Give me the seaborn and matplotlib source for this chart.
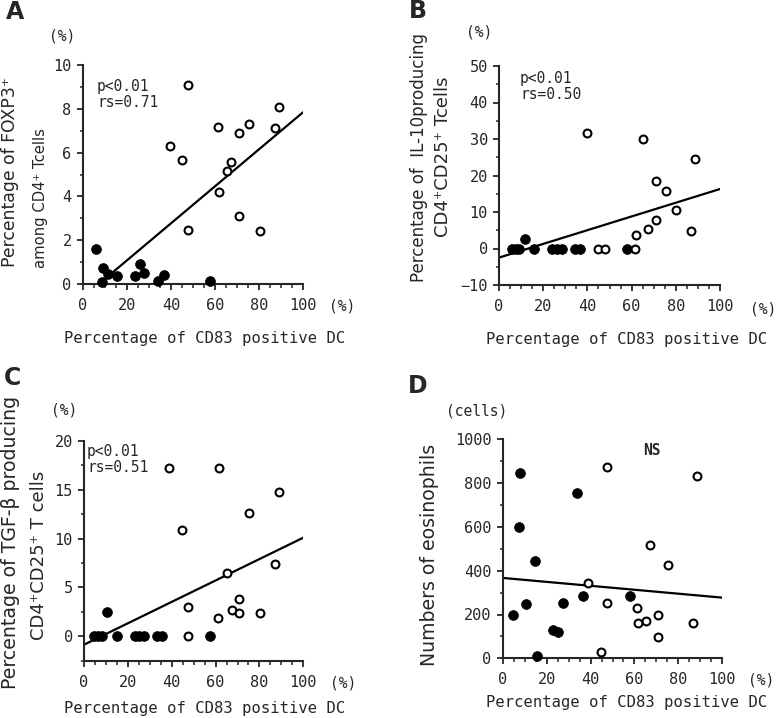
import numpy as np
import matplotlib
matplotlib.use("Agg")
import matplotlib.pyplot as plt
import seaborn as sns
from matplotlib.ticker import MultipleLocator

# Panel A: FOXP3+ among CD4+ T cells (%)
a_filled_x = [5.9, 9.1, 8.6, 11.6, 15.7, 23.7, 26.0, 27.8, 34.3, 37.0, 57.7]
a_filled_y = [1.58, 0.75, 0.1, 0.44, 0.38, 0.38, 0.9, 0.52, 0.14, 0.41, 0.14]
a_open_x = [39.6, 44.9, 47.9, 47.9, 61.5, 61.9, 65.3, 67.5, 70.8, 70.8, 75.5, 80.7, 87.2, 89.1]
a_open_y = [6.28, 5.67, 9.09, 2.48, 7.19, 4.18, 5.18, 5.59, 6.88, 3.09, 7.31, 2.42, 7.11, 8.07]

# Panel B: IL-10 producing CD4+CD25+ T cells (%)
b_filled_x = [5.7, 7.5, 9.2, 11.8, 15.8, 24.1, 26.1, 28.4, 34.4, 36.7, 58.1]
b_filled_y = [0, 0, 0, 2.7, 0, 0, 0, 0, 0, 0, 0]
b_open_x = [39.7, 45.0, 48.0, 61.6, 61.8, 65.3, 67.2, 71.0, 70.9, 75.4, 80.1, 86.9, 88.7]
b_open_y = [31.7, 0, 0, 0, 3.6, 30.0, 5.4, 7.8, 18.5, 15.7, 10.5, 4.7, 24.4]

# Panel C: TGF-beta producing CD4+CD25+ T cells (%)
c_filled_x = [4.6, 6.5, 8.3, 10.6, 14.9, 23.3, 25.2, 27.4, 33.1, 35.7, 57.5]
c_filled_y = [0, 0, 0, 2.47, 0, 0, 0, 0, 0, 0, 0]
c_open_x = [38.9, 44.5, 47.6, 47.6, 61.2, 61.6, 65.3, 67.3, 70.7, 70.7, 75.2, 80.2, 87.1, 89.1]
c_open_y = [17.2, 10.86, 3.05, 0, 1.88, 17.2, 6.5, 2.7, 3.8, 2.43, 12.6, 2.36, 7.43, 14.8]

# Panel D: numbers of eosinophils (cells)
d_filled_x = [4.7, 7.5, 8.1, 10.6, 14.7, 15.5, 23.0, 25.3, 27.3, 34.0, 36.4, 58.0]
d_filled_y = [198, 598, 845, 247, 446, 11, 129, 119, 254, 753, 286, 286]
d_open_x = [38.7, 44.6, 47.4, 47.4, 61.0, 61.5, 65.1, 67.1, 70.6, 70.9, 75.1, 86.5, 88.6]
d_open_y = [345, 27, 875, 254, 228, 160, 169, 517, 199, 99, 426, 160, 834]

# regression lines, value at x=0 and x=100
fit_x = [0, 100]
fit_a = [-0.62, 7.84]
fit_b = [-2.5, 16.3]
fit_c = [-0.86, 10.1]
fit_d = [367, 277]

W, H = 778, 718
sns.set_style("ticks")
plt.rcParams['font.family'] = ['DejaVu Sans Mono', 'DejaVu Sans']
plt.rcParams['axes.linewidth'] = 1.5

fig = plt.figure(figsize=(W / 100, H / 100), dpi=100)


def px(x, y):
    return x / W, 1 - y / H


def add_axes(left, top, right, bottom):
    return fig.add_axes([left / W, 1 - bottom / H, (right - left) / W, (bottom - top) / H])


def panel(ax, fx, fy, ox, oy, fit, ylim, major, minor):
    sns.lineplot(x=fit_x, y=fit, ax=ax, color='black', lw=1.6)
    sns.scatterplot(x=fx, y=fy, ax=ax, color='black', s=50, edgecolor='black',
                    linewidth=0.5, clip_on=False, zorder=3)
    sns.scatterplot(x=ox, y=oy, ax=ax, color='white', s=32, edgecolor='black',
                    linewidth=1.5, clip_on=False, zorder=3)
    ax.set_xlim(0, 100)
    ax.set_ylim(*ylim)
    ax.xaxis.set_major_locator(MultipleLocator(20))
    ax.xaxis.set_minor_locator(MultipleLocator(5))
    ax.yaxis.set_major_locator(MultipleLocator(major))
    ax.yaxis.set_minor_locator(MultipleLocator(minor))
    ax.tick_params(axis='x', which='major', length=4, width=1.3, pad=6, labelsize=11)
    ax.tick_params(axis='x', which='minor', length=3, width=1.1)
    ax.tick_params(axis='y', which='major', length=4, width=1.3, pad=4, labelsize=11)
    ax.tick_params(axis='y', which='minor', length=2.5, width=1.1)
    sns.despine(ax=ax)
    ax.set_xlabel('')
    ax.set_ylabel('')


axA = add_axes(82.7, 65, 303, 284)
panel(axA, a_filled_x, a_filled_y, a_open_x, a_open_y, fit_a, (0, 10), 2, 1)
axB = add_axes(499, 66, 720, 285)
panel(axB, b_filled_x, b_filled_y, b_open_x, b_open_y, fit_b, (-10, 50), 10, 5)
axC = add_axes(84, 441, 303.3, 660.7)
panel(axC, c_filled_x, c_filled_y, c_open_x, c_open_y, fit_c, (-2.5, 20), 5, 2.5)
axD = add_axes(502.7, 439.3, 722.3, 658.3)
panel(axD, d_filled_x, d_filled_y, d_open_x, d_open_y, fit_d, (0, 1000), 200, 100)

# panel letters
for letter, (x, y) in zip('ABCD', [(15, 12), (418, 11), (13, 378), (418, 386)]):
    fig.text(*px(x, y), letter, family='DejaVu Sans', weight='bold', fontsize=17,
             ha='center', va='center')

# units
unit_kw = dict(fontsize=10.5, ha='center', va='center')
fig.text(*px(62, 36), '(%)', **unit_kw)
fig.text(*px(479, 32), '(%)', **unit_kw)
fig.text(*px(64, 410), '(%)', **unit_kw)
fig.text(*px(477, 411), '(cells)', **unit_kw)
fig.text(*px(342, 306), '(%)', **unit_kw)
fig.text(*px(776, 309), '(%)', fontsize=10.5, ha='right', va='center')
fig.text(*px(343, 683), '(%)', **unit_kw)
fig.text(*px(774, 680), '(%)', fontsize=10.5, ha='right', va='center')

# x labels
xl = 'Percentage of CD83 positive DC'
for x, y in [(205, 338), (627, 340), (205, 708), (627, 703)]:
    fig.text(*px(x, y), xl, fontsize=11.2, ha='center', va='center')

# y labels
yl_kw = dict(family='DejaVu Sans', rotation=90, ha='center', va='center')
fig.text(*px(10.5, 172), 'Percentage of FOXP3\u207a', fontsize=12.4, **yl_kw)
fig.text(*px(40.5, 198.5), 'among CD4\u207a Tcells', fontsize=10.6, **yl_kw)
fig.text(*px(419, 158), 'Percentage of  IL-10producing', fontsize=12.0, **yl_kw)
fig.text(*px(443, 157), 'CD4\u207aCD25\u207a Tcells', fontsize=13.0, **yl_kw)
fig.text(*px(10.5, 542), 'Percentage of TGF-\u03b2 producing', fontsize=13.6, **yl_kw)
fig.text(*px(39.5, 555), 'CD4\u207aCD25\u207a T cells', fontsize=13.0, **yl_kw)
fig.text(*px(429.5, 555), 'Numbers of eosinophils', fontsize=13.6, **yl_kw)

# statistics
st_kw = dict(fontsize=10.5, ha='left', va='top', linespacing=1.05)
fig.text(*px(97, 79), 'p<0.01\nrs=0.71', **st_kw)
fig.text(*px(520, 71), 'p<0.01\nrs=0.50', **st_kw)
fig.text(*px(87, 444), 'p<0.01\nrs=0.51', **st_kw)
fig.text(*px(652, 451), 'NS', fontsize=10.5, weight='bold', ha='center', va='center')

fig.savefig('out.png', dpi=100)
